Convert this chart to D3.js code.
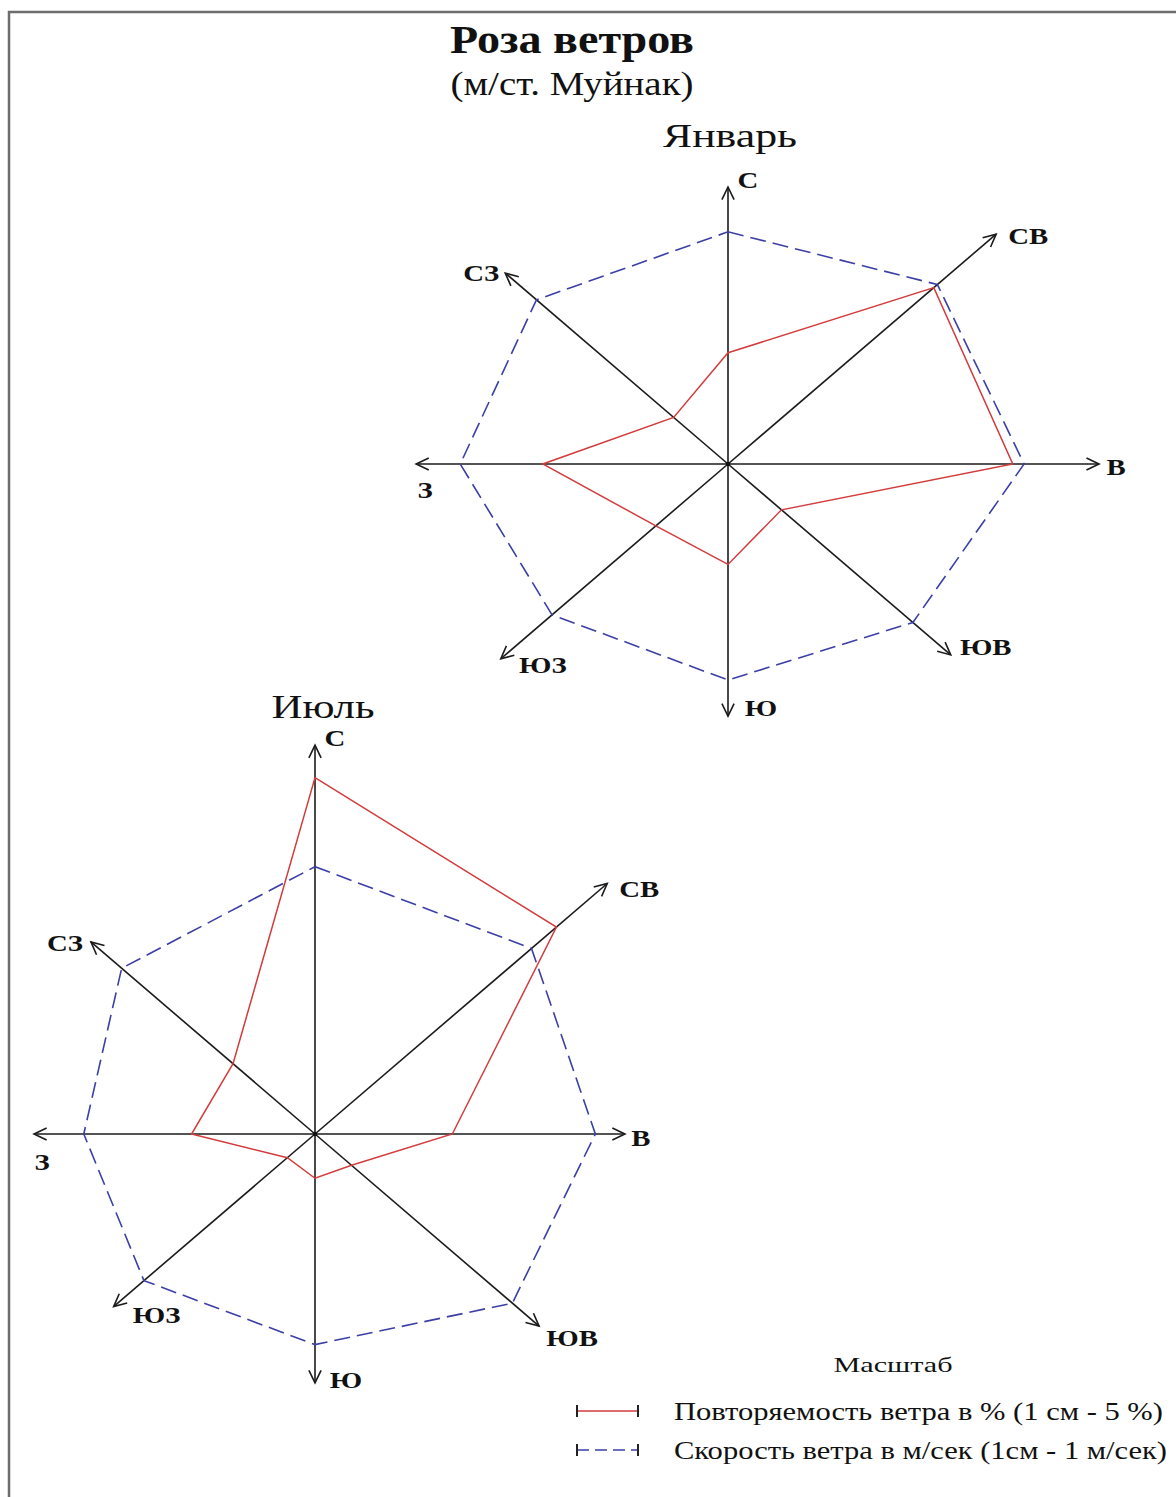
<!DOCTYPE html>
<html>
<head>
<meta charset="utf-8">
<script src="https://cdn.jsdelivr.net/npm/d3@7"></script>
<style>
  body { margin: 0; background: #fff; }
  svg text { font-family: "Liberation Serif", "Times New Roman", serif; fill: #111; }
</style>
</head>
<body>
<svg id="chart" width="1176" height="1497"></svg>
<script>
// румбы
var directions = ["С", "СВ", "В", "ЮВ", "Ю", "ЮЗ", "З", "СЗ"];
// повторяемость ветра, %
var janFrequency = [10.3, 23.1, 22.6, 6.0, 9.3, 8.1, 14.7, 6.1];
var julFrequency = [33.0, 27.1, 10.9, 4.1, 4.1, 3.1, 9.8, 9.2];
// скорость ветра, м/сек
var janSpeed = [4.3, 4.7, 4.7, 4.15, 4.0, 3.95, 4.25, 4.3];
var julSpeed = [4.95, 4.86, 4.45, 4.43, 3.9, 3.84, 3.67, 4.34];
// масштаб: 1 см - 5 %, 1 см - 1 м/сек
var freqPerCm = 5, speedPerCm = 1;

var pxPerCmX = 63, pxPerCmY = 54, textStretch = 1.2;

var roses = [
  { title: "Январь", cx: 728, cy: 464, titleX: 730, titleY: 147, titleW: 134,
    freq: janFrequency, speed: janSpeed,
    axisLen: [5.13, 6.02, 5.89, 5.0, 4.67, 5.1, 4.95, 5.0],
    labelOff: [[20,-7],[32,2],[17,3],[35,-8],[33,-8],[42,6],[9,26],[-24,0]] },
  { title: "Июль", cx: 315, cy: 1134, titleX: 323, titleY: 718, titleW: 103,
    freq: julFrequency, speed: julSpeed,
    axisLen: [7.2, 6.56, 4.92, 5.03, 4.61, 4.52, 4.46, 5.03],
    labelOff: [[20,-7],[32,5],[16,4],[33,12],[31,-3],[43,8],[8,28],[-26,1]] }
];

var svg = d3.select("#chart");

// рамка
svg.append("path")
  .attr("d", "M9,1497 L9,12 L1176,12")
  .attr("fill", "none").attr("stroke", "#6d6d6d").attr("stroke-width", 2.5);

function addText(parent, x, y, s, size, weight, opts) {
  opts = opts || {};
  var t = parent.append("text")
    .attr("x", x).attr("y", y)
    .attr("font-size", size)
    .attr("font-weight", weight)
    .attr("text-anchor", opts.anchor || "middle")
    .text(s);
  if (opts.width) {
    t.attr("textLength", opts.width).attr("lengthAdjust", "spacingAndGlyphs");
  } else {
    t.attr("x", 0).attr("y", 0)
     .attr("transform", "translate(" + x + "," + y + ") scale(" + textStretch + ",1)");
  }
  if (opts.central) t.attr("dominant-baseline", "central");
  return t;
}

addText(svg, 572, 53, "Роза ветров", 40, "bold", { width: 244 });
addText(svg, 572, 95, "(м/ст. Муйнак)", 34, "normal", { width: 243 });

roses.forEach(function(rose) {
  var x = d3.scaleLinear().domain([0, 1]).range([rose.cx, rose.cx + pxPerCmX]);
  var y = d3.scaleLinear().domain([0, 1]).range([rose.cy, rose.cy - pxPerCmY]);
  function pt(i, r) {
    var a = i * Math.PI / 4;
    return [x(r * Math.sin(a)), y(r * Math.cos(a))];
  }
  var g = svg.append("g");

  addText(g, rose.titleX, rose.titleY, rose.title, 33, "normal", { width: rose.titleW });

  // оси со стрелками
  directions.forEach(function(d, i) {
    var tip = pt(i, rose.axisLen[i]);
    g.append("line")
      .attr("x1", rose.cx).attr("y1", rose.cy)
      .attr("x2", tip[0]).attr("y2", tip[1])
      .attr("stroke", "#1b1b1b").attr("stroke-width", 1.6);
    var ang = Math.atan2(tip[1] - rose.cy, tip[0] - rose.cx), len = 14, spread = 0.45;
    var p1 = [tip[0] - len * Math.cos(ang - spread), tip[1] - len * Math.sin(ang - spread)];
    var p2 = [tip[0] - len * Math.cos(ang + spread), tip[1] - len * Math.sin(ang + spread)];
    g.append("path")
      .attr("d", "M" + p1 + "L" + tip + "L" + p2)
      .attr("fill", "none").attr("stroke", "#1b1b1b").attr("stroke-width", 1.6);
    addText(g, tip[0] + rose.labelOff[i][0], tip[1] + rose.labelOff[i][1], d, 24, "bold", { central: true });
  });

  var line = d3.line().curve(d3.curveLinearClosed);

  // скорость
  g.append("path")
    .attr("d", line(rose.speed.map(function(v, i) { return pt(i, v / speedPerCm); })))
    .attr("fill", "none").attr("stroke", "#3b3fa6").attr("stroke-width", 1.6)
    .attr("stroke-dasharray", "16,7");

  // повторяемость
  g.append("path")
    .attr("d", line(rose.freq.map(function(v, i) { return pt(i, v / freqPerCm); })))
    .attr("fill", "none").attr("stroke", "#d23c3c").attr("stroke-width", 1.5);

  g.append("circle").attr("cx", rose.cx).attr("cy", rose.cy).attr("r", 2.2).attr("fill", "#111");
});

// масштаб
var lg = svg.append("g");
addText(lg, 893, 1372, "Масштаб", 22, "normal", { width: 119 });
var legendRows = [
  { y: 1411, color: "#d23c3c", dash: null, text: "Повторяемость ветра в % (1 см - 5 %)", w: 489 },
  { y: 1450, color: "#3b3fa6", dash: "12,6", text: "Скорость ветра в м/сек (1см - 1 м/сек)", w: 493 }
];
legendRows.forEach(function(r) {
  lg.append("line").attr("x1", 577).attr("x2", 638).attr("y1", r.y).attr("y2", r.y)
    .attr("stroke", r.color).attr("stroke-width", 1.6)
    .attr("stroke-dasharray", r.dash);
  [577, 638].forEach(function(xx) {
    lg.append("line").attr("x1", xx).attr("x2", xx).attr("y1", r.y - 6).attr("y2", r.y + 6)
      .attr("stroke", "#222").attr("stroke-width", 2);
  });
  addText(lg, 674, r.y + 9, r.text, 25, "normal", { anchor: "start", width: r.w });
});
</script>
</body>
</html>
